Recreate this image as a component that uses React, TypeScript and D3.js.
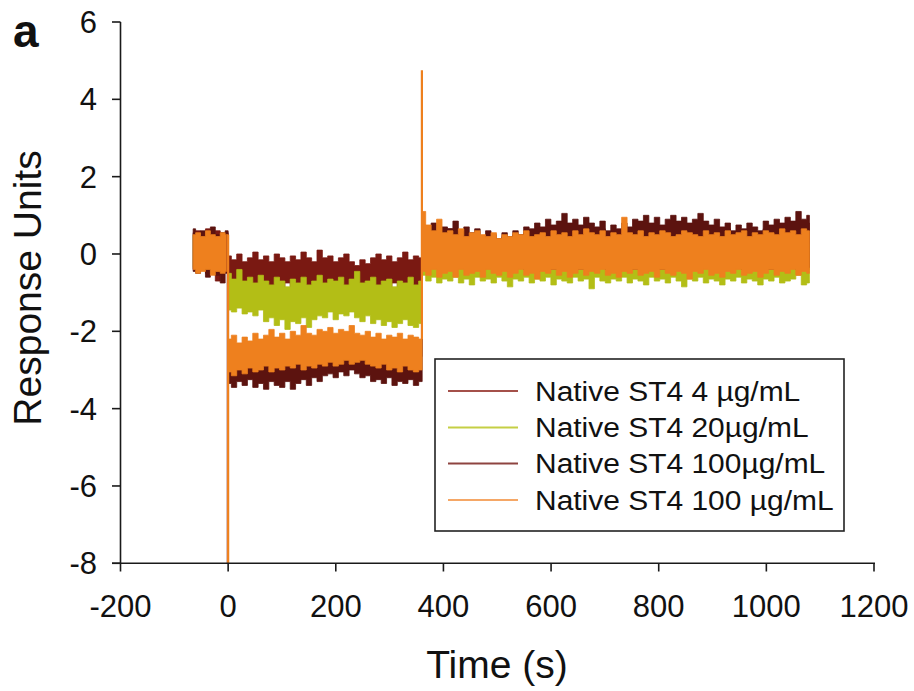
import React from "react";
import * as d3 from "d3";

const SERIES_NAMES = [
  "Native ST4 4 µg/mL",
  "Native ST4 20µg/mL",
  "Native ST4 100µg/mL",
  "Native ST4 100 µg/mL",
];
const SERIES_COLORS = ["#7A1912", "#B3BE16", "#5C130F", "#EE801E"];
const LEGEND_COLORS = ["#A4504A", "#C5CF45", "#8E4440", "#F5A766"];
const X_TICKS = [-200, 0, 200, 400, 600, 800, 1000, 1200];
const Y_TICKS = [-8, -6, -4, -2, 0, 2, 4, 6];
// time spans (s) of the three recorded segments: baseline, association, dissociation
const SEG_SPANS: [number, number][] = [[-65, -1], [1, 359], [362, 1080]];

// [upper, lower] edge of each noisy trace
const S1_BASE = [[0.55,-0.4],[0.6,-0.45],[0.45,-0.3],[0.65,-0.5],[0.5,-0.35],[0.6,-0.7],[0.4,-0.45],[0.55,-0.4]];
const S2_BASE = [[0.5,-0.35],[0.4,-0.4],[0.55,-0.3],[0.45,-0.45],[0.5,-0.35],[0.35,-0.4],[0.5,-0.3],[0.45,-0.4]];
const S3_BASE = [[0.65,-0.45],[0.5,-0.5],[0.6,-0.4],[0.55,-0.6],[0.7,-0.45],[0.5,-0.55],[0.55,-0.75],[0.6,-0.5]];
const S4_BASE = [[0.5,-0.4],[0.55,-0.5],[0.45,-0.45],[0.6,-0.4],[0.5,-0.55],[0.45,-0.45],[0.55,-0.5],[0.5,-0.45]];

const S1_ASSOC = [[-0.05,-0.8],[-0.15,-0.9],[0.0,-0.75],[-0.2,-0.95],[-0.1,-0.85],[0.05,-0.8],[-0.15,-0.9],[-0.05,-0.85],[-0.2,-0.95],[0.0,-0.8],[-0.1,-0.9],[-0.2,-0.75],[-0.05,-0.85],[-0.15,-0.9],[0.05,-0.8],[-0.1,-0.95],[-0.2,-0.85],[0.1,-0.8],[-0.1,-0.9],[-0.05,-0.85],[-0.2,-0.75],[-0.1,-0.9],[0.0,-0.85],[-0.2,-0.8],[-0.3,-0.95],[-0.15,-1.0],[-0.25,-0.85],[-0.1,-0.9],[0.0,-0.8],[-0.15,-0.85],[-0.05,-0.9],[-0.2,-0.75],[-0.1,-0.9],[0.05,-0.85],[-0.15,-0.8],[-0.05,-0.9],[-0.1,-0.85]];
const S2_ASSOC = [[-0.5,-1.45],[-0.65,-1.5],[-0.4,-1.4],[-0.7,-1.55],[-0.6,-1.5],[-0.75,-1.6],[-0.55,-1.45],[-0.7,-1.75],[-0.8,-1.65],[-0.6,-1.85],[-0.7,-1.7],[-0.85,-1.95],[-0.65,-1.75],[-0.75,-1.8],[-0.6,-1.65],[-0.8,-1.9],[-0.7,-1.7],[-0.55,-1.6],[-0.75,-1.65],[-0.65,-1.5],[-0.7,-1.7],[-0.6,-1.55],[-0.8,-1.6],[-0.65,-1.5],[-0.45,-1.65],[-0.75,-1.75],[-0.7,-1.6],[-0.6,-1.8],[-0.8,-1.7],[-0.7,-1.85],[-0.65,-1.75],[-0.85,-1.9],[-0.7,-1.8],[-0.75,-1.7],[-0.6,-1.85],[-0.8,-1.9],[-0.7,-1.8]];
const S3_ASSOC = [[-2.6,-3.35],[-2.7,-3.45],[-2.55,-3.3],[-2.65,-3.4],[-2.7,-3.25],[-2.6,-3.45],[-2.65,-3.35],[-2.55,-3.5],[-2.7,-3.3],[-2.6,-3.4],[-2.65,-3.45],[-2.7,-3.3],[-2.6,-3.5],[-2.55,-3.35],[-2.65,-3.25],[-2.6,-3.4],[-2.5,-3.2],[-2.6,-3.3],[-2.55,-3.15],[-2.5,-3.1],[-2.6,-3.2],[-2.7,-3.05],[-2.65,-3.15],[-2.6,-3.0],[-2.7,-3.1],[-2.65,-3.2],[-2.6,-3.15],[-2.7,-3.3],[-2.65,-3.25],[-2.6,-3.35],[-2.7,-3.2],[-2.65,-3.4],[-2.6,-3.3],[-2.7,-3.35],[-2.65,-3.25],[-2.6,-3.4],[-2.65,-3.3]];
const S4_ASSOC = [[-2.2,-3.05],[-2.1,-3.15],[-2.3,-3.0],[-2.15,-3.1],[-2.25,-2.95],[-2.05,-3.05],[-2.2,-3.0],[-2.1,-2.9],[-1.95,-3.05],[-2.15,-2.95],[-2.05,-3.0],[-2.2,-2.9],[-2.0,-2.95],[-2.1,-2.85],[-1.85,-3.0],[-2.05,-2.9],[-2.1,-2.95],[-1.95,-2.85],[-2.0,-2.9],[-1.9,-2.8],[-2.05,-2.9],[-1.95,-2.85],[-2.0,-2.75],[-1.85,-2.85],[-2.05,-2.8],[-2.1,-2.75],[-2.0,-2.85],[-2.15,-2.9],[-2.05,-2.95],[-2.2,-2.85],[-2.1,-3.0],[-2.15,-2.95],[-2.05,-3.05],[-2.2,-2.9],[-2.1,-3.0],[-2.15,-3.05],[-2.2,-3.0]];

const S1_DISS = [[0.45,-0.35],[0.6,-0.45],[0.4,-0.3],[0.55,-0.5],[0.5,-0.35],[0.65,-0.4],[0.45,-0.3],[0.55,-0.45],[0.4,-0.35],[0.5,-0.5],
  [0.45,-0.4],[0.35,-0.3],[0.5,-0.45],[0.4,-0.35],[0.3,-0.5],[0.45,-0.4],[0.35,-0.3],[0.5,-0.45],[0.4,-0.35],[0.55,-0.4],
  [0.5,-0.3],[0.65,-0.45],[0.55,-0.35],[0.7,-0.4],[0.6,-0.3],[0.65,-0.45],[0.75,-0.35],[0.6,-0.4],[0.7,-0.3],[0.55,-0.45],
  [0.7,-0.35],[0.6,-0.4],[0.55,-0.3],[0.65,-0.45],[0.5,-0.35],[0.6,-0.4],[0.5,-0.3],[0.65,-0.45],[0.55,-0.35],[0.7,-0.4],
  [0.65,-0.3],[0.75,-0.45],[0.6,-0.35],[0.7,-0.4],[0.6,-0.3],[0.7,-0.45],[0.75,-0.35],[0.65,-0.4],[0.7,-0.3],[0.6,-0.45],
  [0.7,-0.35],[0.8,-0.4],[0.65,-0.3],[0.6,-0.45],[0.7,-0.35],[0.55,-0.4],[0.65,-0.3],[0.5,-0.45],[0.6,-0.35],[0.55,-0.4],
  [0.65,-0.3],[0.55,-0.45],[0.5,-0.35],[0.65,-0.4],[0.6,-0.3],[0.7,-0.45],[0.6,-0.35],[0.75,-0.4],[0.65,-0.3],[0.85,-0.45],[0.7,-0.35],[0.8,-0.4]];
const S2_DISS = [[0.3,-0.55],[0.2,-0.7],[0.35,-0.6],[0.25,-0.75],[0.3,-0.65],[0.15,-0.7],[0.3,-0.6],[0.2,-0.75],[0.25,-0.65],[0.3,-0.8],
  [0.2,-0.6],[0.25,-0.7],[0.15,-0.65],[0.3,-0.75],[0.2,-0.6],[0.25,-0.7],[0.3,-0.85],[0.2,-0.65],[0.25,-0.7],[0.15,-0.6],
  [0.3,-0.75],[0.2,-0.65],[0.25,-0.7],[0.3,-0.6],[0.2,-0.8],[0.25,-0.65],[0.3,-0.7],[0.15,-0.75],[0.25,-0.6],[0.3,-0.7],
  [0.2,-0.65],[0.25,-0.9],[0.3,-0.6],[0.2,-0.7],[0.25,-0.75],[0.15,-0.65],[0.3,-0.7],[0.2,-0.6],[0.25,-0.75],[0.3,-0.65],
  [0.2,-0.7],[0.25,-0.8],[0.3,-0.6],[0.2,-0.7],[0.25,-0.65],[0.15,-0.75],[0.3,-0.6],[0.2,-0.7],[0.25,-0.85],[0.3,-0.65],
  [0.2,-0.7],[0.25,-0.6],[0.3,-0.75],[0.2,-0.65],[0.25,-0.7],[0.15,-0.8],[0.3,-0.65],[0.2,-0.7],[0.25,-0.6],[0.3,-0.75],
  [0.2,-0.65],[0.25,-0.7],[0.3,-0.8],[0.2,-0.65],[0.25,-0.7],[0.15,-0.6],[0.3,-0.75],[0.2,-0.7],[0.25,-0.65],[0.3,-0.55],[0.2,-0.8],[0.25,-0.75]];
const S3_DISS = [[0.75,-0.25],[0.6,-0.35],[0.8,-0.2],[0.55,-0.3],[0.7,-0.4],[0.65,-0.25],[0.85,-0.35],[0.6,-0.2],[0.7,-0.3],[0.55,-0.4],
  [0.65,-0.25],[0.45,-0.35],[0.6,-0.2],[0.5,-0.3],[0.4,-0.4],[0.55,-0.25],[0.45,-0.35],[0.6,-0.2],[0.5,-0.3],[0.7,-0.4],
  [0.65,-0.25],[0.8,-0.35],[0.7,-0.2],[0.9,-0.3],[0.75,-0.4],[0.85,-0.25],[1.05,-0.35],[0.8,-0.2],[0.9,-0.3],[0.75,-0.4],
  [0.95,-0.25],[0.8,-0.35],[0.7,-0.2],[0.85,-0.3],[0.6,-0.4],[0.75,-0.25],[0.65,-0.35],[0.8,-0.2],[0.7,-0.3],[0.9,-0.4],
  [0.85,-0.25],[1.0,-0.35],[0.8,-0.2],[0.95,-0.3],[0.75,-0.4],[0.9,-0.25],[1.0,-0.35],[0.85,-0.2],[0.95,-0.3],[0.8,-0.4],
  [0.9,-0.25],[1.05,-0.35],[0.85,-0.2],[0.75,-0.3],[0.9,-0.4],[0.7,-0.25],[0.8,-0.35],[0.6,-0.2],[0.75,-0.3],[0.65,-0.4],
  [0.8,-0.25],[0.7,-0.35],[0.6,-0.2],[0.85,-0.3],[0.75,-0.4],[0.9,-0.25],[0.8,-0.35],[0.95,-0.2],[0.85,-0.3],[1.1,-0.4],[0.9,-0.25],[1.0,-0.35]];
const S4_DISS = [[1.1,-0.45],[0.75,-0.55],[0.6,-0.4],[0.9,-0.6],[0.55,-0.5],[0.6,-0.45],[0.5,-0.6],[0.65,-0.4],[0.45,-0.55],[0.55,-0.5],
  [0.6,-0.45],[0.5,-0.6],[0.45,-0.4],[0.55,-0.5],[0.4,-0.55],[0.5,-0.45],[0.45,-0.6],[0.55,-0.5],[0.5,-0.4],[0.6,-0.55],
  [0.45,-0.5],[0.5,-0.65],[0.55,-0.45],[0.45,-0.5],[0.6,-0.4],[0.5,-0.55],[0.55,-0.45],[0.45,-0.6],[0.6,-0.5],[0.5,-0.4],
  [0.65,-0.55],[0.55,-0.45],[0.5,-0.5],[0.6,-0.4],[0.45,-0.55],[0.55,-0.5],[0.5,-0.6],[0.95,-0.45],[0.55,-0.5],[0.5,-0.4],
  [0.6,-0.55],[0.45,-0.5],[0.55,-0.45],[0.5,-0.6],[0.6,-0.4],[0.55,-0.5],[0.45,-0.55],[0.5,-0.45],[0.6,-0.5],[0.55,-0.65],
  [0.5,-0.45],[0.45,-0.5],[0.6,-0.4],[0.5,-0.55],[0.55,-0.5],[0.45,-0.6],[0.6,-0.45],[0.5,-0.5],[0.55,-0.4],[0.6,-0.55],
  [0.45,-0.5],[0.55,-0.45],[0.5,-0.6],[0.6,-0.5],[0.55,-0.4],[0.5,-0.55],[0.65,-0.45],[0.55,-0.5],[0.6,-0.4],[0.5,-0.55],[0.65,-0.45],[0.6,-0.5]];

// injection / wash spikes: series index, time, from, to
const SPIKES = [
  { s: 0, t: -2, from: 0.5, to: -8 },
  { s: 3, t: 0, from: 0.5, to: -8 },
  { s: 3, t: 360, from: -2.2, to: 4.75 },
];

const SERIES_SEGMENTS = [
  [S1_BASE, S1_ASSOC, S1_DISS],
  [S2_BASE, S2_ASSOC, S2_DISS],
  [S3_BASE, S3_ASSOC, S3_DISS],
  [S4_BASE, S4_ASSOC, S4_DISS],
];

type Pt = { t: number; hi: number; lo: number };

function buildSeries(segs: number[][][]): Pt[] {
  const out: Pt[] = [];
  segs.forEach((arr, k) => {
    const [a, b] = SEG_SPANS[k];
    const n = arr.length;
    arr.forEach(([hi, lo], i) => {
      out.push({ t: a + (i * (b - a)) / (n - 1), hi, lo });
    });
  });
  return out;
}

const W = 914;
const H = 691;
const FONT = "'Liberation Sans', Arial, sans-serif";

export default function App() {
  const x = d3.scaleLinear().domain([-200, 1200]).range([120.5, 874]);
  const y = d3.scaleLinear().domain([-8, 6]).range([563.3, 22]);
  const area = d3
    .area<Pt>()
    .curve(d3.curveStep)
    .x((d) => x(d.t))
    .y0((d) => y(d.lo))
    .y1((d) => y(d.hi));

  const series = SERIES_SEGMENTS.map(buildSeries);
  const legendRows = [391, 427.5, 463.5, 500];

  return (
    <svg
      width={W}
      height={H}
      style={{ position: "absolute", left: 0, top: 0, background: "#fff" }}
    >
      <rect x={0} y={0} width={W} height={H} fill="#fff" />
      {/* traces */}
      {series.map((pts, i) => (
        <path
          key={"a" + i}
          d={area(pts) || ""}
          fill={SERIES_COLORS[i]}
          stroke={SERIES_COLORS[i]}
          strokeWidth={0.8}
        />
      ))}
      {SPIKES.map((sp, i) => (
        <line
          key={"sp" + i}
          x1={x(sp.t)}
          x2={x(sp.t)}
          y1={y(sp.from)}
          y2={y(sp.to)}
          stroke={SERIES_COLORS[sp.s]}
          strokeWidth={sp.s === 0 ? 1.2 : 2.2}
          opacity={sp.s === 0 ? 0.5 : 1}
        />
      ))}

      {/* axes */}
      <line x1={120.5} x2={120.5} y1={22} y2={563.3} stroke="#1a1a1a" strokeWidth={1.6} />
      <line x1={112} x2={875} y1={563.3} y2={563.3} stroke="#1a1a1a" strokeWidth={1.6} />
      {Y_TICKS.map((v) => (
        <g key={"yt" + v}>
          <line x1={112} x2={120.5} y1={y(v)} y2={y(v)} stroke="#1a1a1a" strokeWidth={1.6} />
          <text
            x={97}
            y={y(v)}
            dy="0.36em"
            textAnchor="end"
            fontFamily={FONT}
            fontSize={31}
            fill="#111"
          >
            {v}
          </text>
        </g>
      ))}
      {X_TICKS.map((v) => (
        <g key={"xt" + v}>
          <line x1={x(v)} x2={x(v)} y1={563.3} y2={571.5} stroke="#1a1a1a" strokeWidth={1.6} />
          <text
            x={x(v)}
            y={617}
            textAnchor="middle"
            fontFamily={FONT}
            fontSize={31}
            fill="#111"
          >
            {v}
          </text>
        </g>
      ))}

      {/* titles */}
      <text x={497} y={678} textAnchor="middle" fontFamily={FONT} fontSize={39} fill="#111">
        Time (s)
      </text>
      <text
        transform="translate(41,288) rotate(-90)"
        textAnchor="middle"
        fontFamily={FONT}
        fontSize={39}
        fill="#111"
      >
        Response Units
      </text>
      <text x={13} y={47} fontFamily={FONT} fontSize={46} fontWeight="bold" fill="#111">
        a
      </text>

      {/* legend */}
      <rect x={435} y={359} width={409} height={172} fill="#fff" stroke="#222" strokeWidth={1.6} />
      {SERIES_NAMES.map((name, i) => (
        <g key={"lg" + i}>
          <line
            x1={448}
            x2={518}
            y1={legendRows[i]}
            y2={legendRows[i]}
            stroke={LEGEND_COLORS[i]}
            strokeWidth={2}
          />
          <text
            transform={`translate(535,${legendRows[i]}) scale(1.07,1)`}
            dy="0.35em"
            fontFamily={FONT}
            fontSize={28}
            fill="#111"
          >
            {name}
          </text>
        </g>
      ))}
    </svg>
  );
}
